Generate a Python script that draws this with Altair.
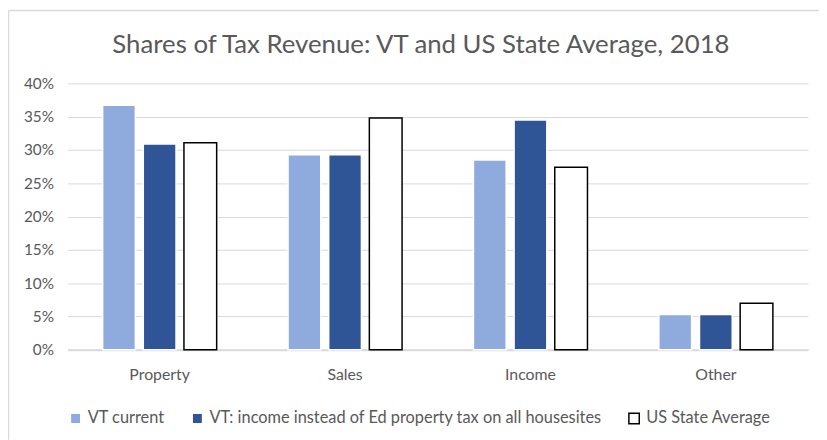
import altair as alt
import pandas as pd

title_text = "Shares of Tax Revenue: VT and US State Average, 2018"
categories = ["Property", "Sales", "Income", "Other"]
series = ["VT current", "VT: income instead of Ed property tax on all housesites", "US State Average"]
vt_current = [0.367, 0.293, 0.285, 0.053]
vt_income = [0.309, 0.293, 0.345, 0.053]
us_avg = [0.311, 0.348, 0.274, 0.070]

rows = []
for i, c in enumerate(categories):
    for s, vals in zip(series, [vt_current, vt_income, us_avg]):
        rows.append({"category": c, "series": s, "value": vals[i]})
df = pd.DataFrame(rows)

font = "Lato"
grey = "#595959"

bars = alt.Chart(df).mark_bar(strokeWidth=1.5).encode(
    x=alt.X("category:N", sort=categories, title=None,
            scale=alt.Scale(paddingInner=0.385, paddingOuter=0.19),
            axis=alt.Axis(labelAngle=0, labelFont=font, labelFontSize=16, labelColor=grey,
                          labelPadding=17, domainColor="#d9d9d9", domainWidth=2, ticks=False,
                          grid=False)),
    xOffset=alt.XOffset("series:N", sort=series,
                        scale=alt.Scale(paddingInner=0.195, paddingOuter=0)),
    y=alt.Y("value:Q", title=None,
            scale=alt.Scale(domain=[0, 0.4], nice=False),
            axis=alt.Axis(format=".0%", values=[0, 0.05, 0.1, 0.15, 0.2, 0.25, 0.3, 0.35, 0.4],
                          labelFont=font, labelFontSize=15.5, labelColor=grey, labelPadding=14,
                          domain=False, ticks=False, gridColor="#d9d9d9", gridWidth=1)),
    fill=alt.Fill("series:N", sort=series, title=None,
                  scale=alt.Scale(domain=series, range=["#8faadc", "#2f5597", "#ffffff"]),
                  legend=alt.Legend(orient="bottom", direction="horizontal", symbolType="square",
                                    symbolSize=110, symbolStrokeWidth=1.5, labelFont=font,
                                    labelFontSize=16.5, labelColor=grey, columnPadding=24,
                                    labelOffset=4, offset=28, labelLimit=0)),
    stroke=alt.Stroke("series:N", sort=series,
                      scale=alt.Scale(domain=series, range=["#ffffff", "#ffffff", "#000000"]),
                      legend=None),
)

one = pd.DataFrame({"k": [0]})
# chart-area frame (left and top edges), decorative only
frame_left = alt.Chart(one).mark_rule(color="#d9d9d9", strokeWidth=1.5).encode(
    x=alt.value(-59.5), y=alt.value(-73.5), y2=alt.value(360))
frame_top = alt.Chart(one).mark_rule(color="#d9d9d9", strokeWidth=1.5).encode(
    x=alt.value(-59.5), x2=alt.value(770), y=alt.value(-73.5))
title = alt.Chart(one).mark_text(font=font, fontSize=26, color=grey,
                                 align="center", baseline="middle").encode(
    x=alt.value(357), y=alt.value(-39), text=alt.value(title_text))

chart = alt.layer(bars, frame_left, frame_top, title).properties(
    width=748, height=269,
    padding={"left": 60, "top": 74, "right": 11, "bottom": 89},
    autosize=alt.AutoSizeParams(type="none"),
).configure(background="white").configure_view(stroke=None)

chart.save("out.html", embed_options={"renderer": "svg", "actions": False})
